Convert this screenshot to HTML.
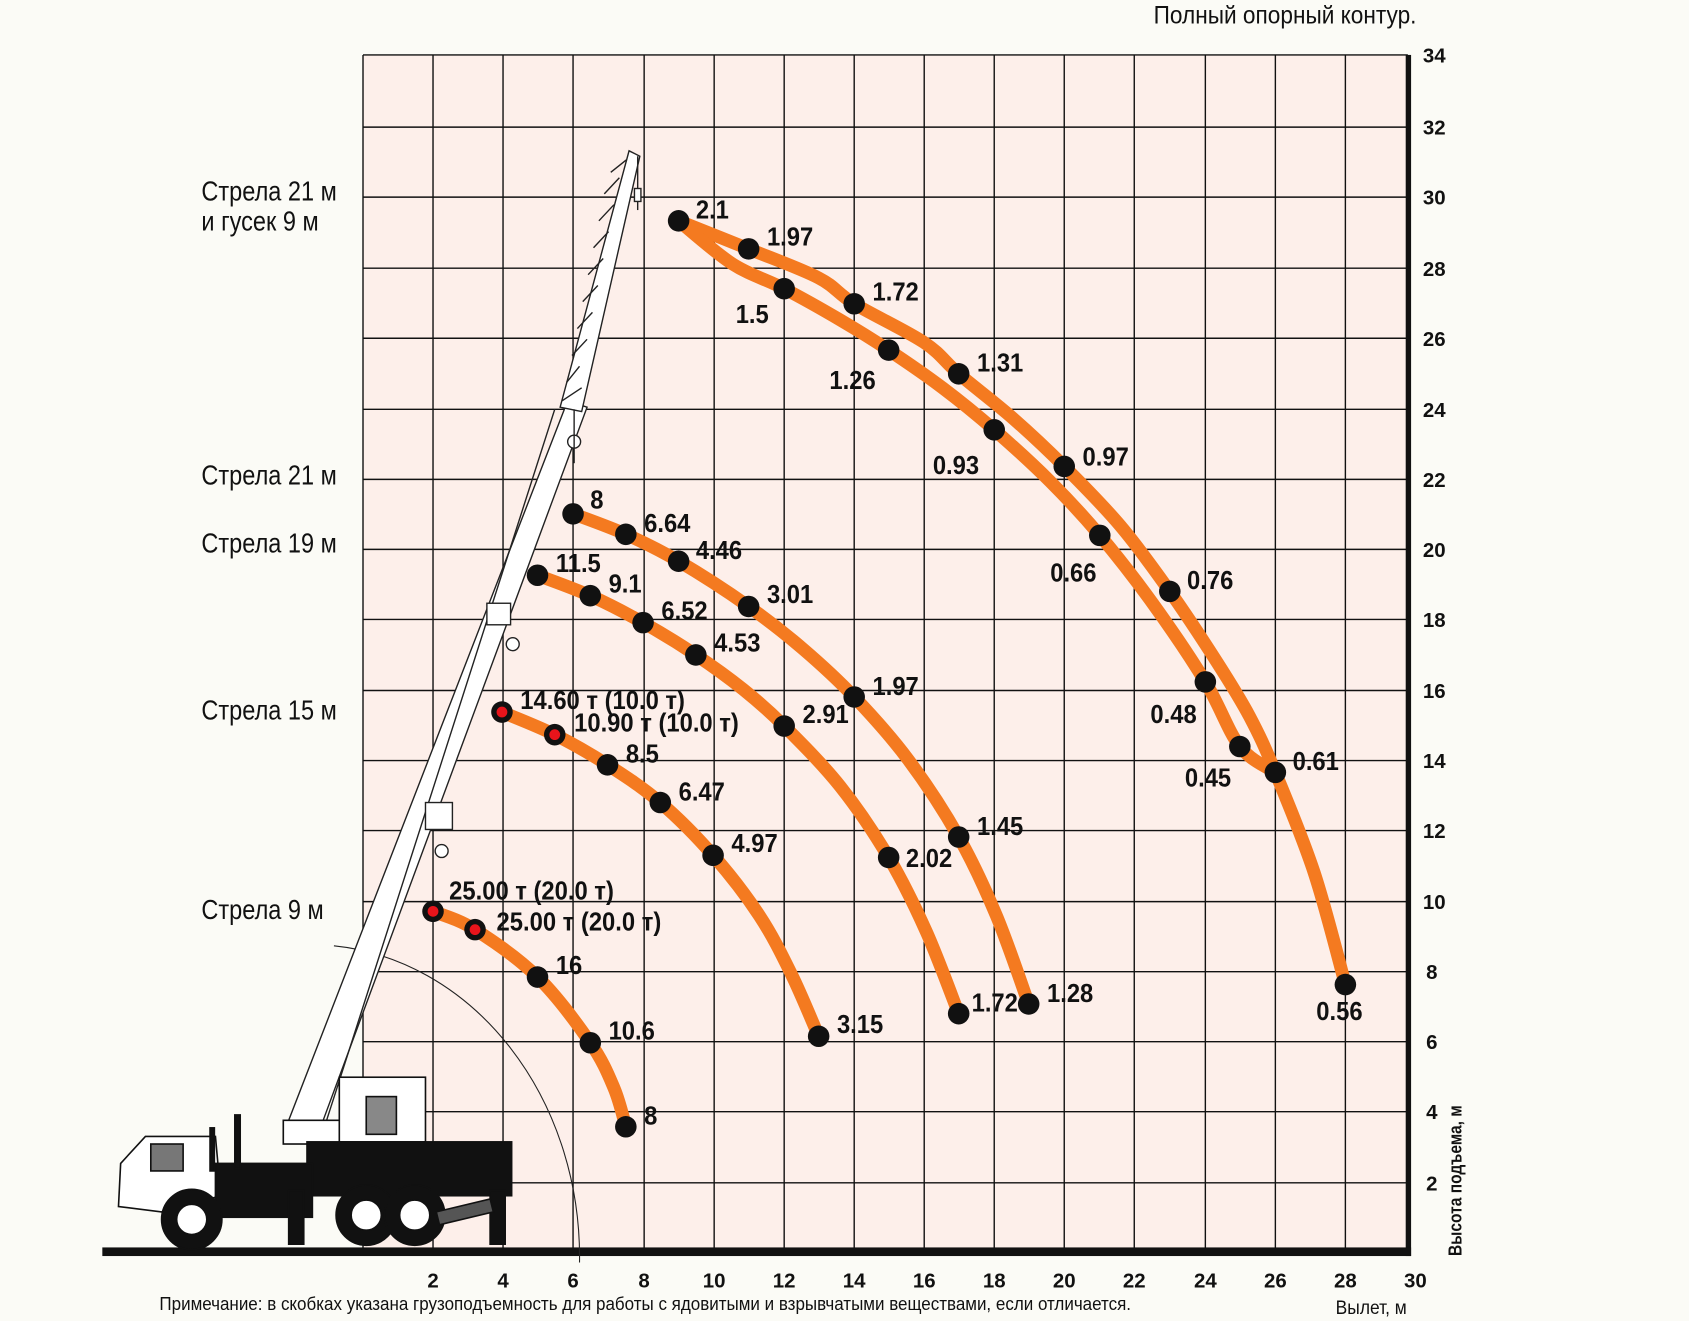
<!DOCTYPE html>
<html><head><meta charset="utf-8"><style>
html,body{margin:0;padding:0;background:#fbfbf6;}
svg{display:block}
.b{font-family:"Liberation Sans Narrow","Liberation Sans",sans-serif;font-weight:bold;font-size:24px;fill:#111}
.b text{transform-box:fill-box;transform-origin:0 50%;transform:scaleX(0.92)}
.n{font-family:"Liberation Sans Narrow","Liberation Sans",sans-serif;font-size:26px;fill:#111}
.n text{transform-box:fill-box;transform-origin:0 50%;transform:scaleX(0.84)}
.t{font-family:"Liberation Sans Narrow","Liberation Sans",sans-serif;font-size:20px;fill:#111}
.c{fill:none;stroke:#f47a20;stroke-width:12;stroke-linejoin:round;stroke-linecap:round}
</style></head><body>
<svg width="1689" height="1321" viewBox="0 0 1568 1226.3" preserveAspectRatio="none" xmlns="http://www.w3.org/2000/svg">
<rect x="0" y="0" width="1568" height="1227" fill="#fbfbf6"/>
<rect x="337" y="51" width="970" height="1111" fill="#fdefea"/>
<g stroke="#111" stroke-width="1.3">
<line x1="337" y1="51" x2="337" y2="1162"/><line x1="402" y1="51" x2="402" y2="1162"/><line x1="467" y1="51" x2="467" y2="1162"/><line x1="532" y1="51" x2="532" y2="1162"/><line x1="598" y1="51" x2="598" y2="1162"/><line x1="663" y1="51" x2="663" y2="1162"/><line x1="728" y1="51" x2="728" y2="1162"/><line x1="793" y1="51" x2="793" y2="1162"/><line x1="858" y1="51" x2="858" y2="1162"/><line x1="923" y1="51" x2="923" y2="1162"/><line x1="988" y1="51" x2="988" y2="1162"/><line x1="1053" y1="51" x2="1053" y2="1162"/><line x1="1119" y1="51" x2="1119" y2="1162"/><line x1="1184" y1="51" x2="1184" y2="1162"/><line x1="1249" y1="51" x2="1249" y2="1162"/>
<line x1="337" y1="51" x2="1307" y2="51"/><line x1="337" y1="118" x2="1307" y2="118"/><line x1="337" y1="183" x2="1307" y2="183"/><line x1="337" y1="249" x2="1307" y2="249"/><line x1="337" y1="314" x2="1307" y2="314"/><line x1="337" y1="380" x2="1307" y2="380"/><line x1="337" y1="445" x2="1307" y2="445"/><line x1="337" y1="510" x2="1307" y2="510"/><line x1="337" y1="575" x2="1307" y2="575"/><line x1="337" y1="641" x2="1307" y2="641"/><line x1="337" y1="706" x2="1307" y2="706"/><line x1="337" y1="771" x2="1307" y2="771"/><line x1="337" y1="837" x2="1307" y2="837"/><line x1="337" y1="902" x2="1307" y2="902"/><line x1="337" y1="967" x2="1307" y2="967"/><line x1="337" y1="1032" x2="1307" y2="1032"/><line x1="337" y1="1098" x2="1307" y2="1098"/>
</g>
<rect x="1305" y="51" width="5" height="1115" fill="#111"/>
<rect x="95" y="1158" width="1215" height="8" fill="#111"/>
<path d="M310 878 A 250 290 0 0 1 538 1172" fill="none" stroke="#222" stroke-width="1"/>
<g stroke="#222" stroke-width="1.3" fill="#fff">
<polygon points="268,1040 300,1040 545,378 527,372"/>
<line x1="300" y1="1050" x2="515" y2="380" fill="none"/>
<polygon points="520,378 540,382 594,145 584,140"/>
<path d="M522 372 L540 360 M526 355 L538 340 M531 330 L545 315 M536 305 L550 290 M541 280 L555 265 M546 255 L560 240 M551 230 L565 215 M556 205 L570 190 M561 180 L575 165 M567 160 L582 148" fill="none"/>
<circle cx="533" cy="410" r="6"/><line x1="533" y1="380" x2="533" y2="430"/>
<circle cx="476" cy="598" r="6"/><rect x="452" y="560" width="22" height="20"/>
<circle cx="410" cy="790" r="6"/><rect x="395" y="745" width="25" height="25"/>
<line x1="592" y1="145" x2="592" y2="195"/><rect x="589" y="175" width="6" height="12"/>
</g>
<g stroke="#111" stroke-width="1.5">
<rect x="263" y="1040" width="70" height="22" fill="#fff"/>
<rect x="315" y="1000" width="80" height="60" fill="#fff"/>
<rect x="340" y="1018" width="28" height="35" fill="#888"/>
<rect x="285" y="1060" width="190" height="50" fill="#111"/>
<path d="M135 1055 L200 1055 L205 1110 L150 1125 L110 1120 L112 1080 Z" fill="#fff"/>
<rect x="140" y="1062" width="30" height="25" fill="#777"/>
<rect x="200" y="1080" width="90" height="50" fill="#111"/>
<rect x="218" y="1035" width="5" height="50" fill="#111"/>
<rect x="195" y="1047" width="4" height="40" fill="#111"/>
<rect x="268" y="1105" width="14" height="50" fill="#111"/>
<rect x="455" y="1105" width="14" height="50" fill="#111"/>
<circle cx="178" cy="1132" r="28" fill="#111"/><circle cx="178" cy="1132" r="14" fill="#fff"/>
<circle cx="340" cy="1128" r="28" fill="#111"/><circle cx="340" cy="1128" r="14" fill="#fff"/>
<circle cx="385" cy="1128" r="28" fill="#111"/><circle cx="385" cy="1128" r="14" fill="#fff"/>
<polygon points="405,1125 455,1113 458,1125 408,1137" fill="#555"/>
</g>
<g id="curves">
<polyline class="c" points="630,205 695,231 760,258 793,282 858,318 890,347 940,388 988,433 1040,488 1086,549 1130,615 1160,665 1184,717 1220,810 1249,914"/>
<polyline class="c" points="630,205 680,245 728,268 780,297 825,325 875,360 923,399 975,447 1021,497 1070,560 1119,633 1151,693 1184,717"/>
<polyline class="c" points="532,477 581,496 630,521 695,563 745,602 793,647 843,705 890,777 925,850 955,932"/>
<polyline class="c" points="499,534 548,553 597,578 646,608 690,640 728,674 780,730 825,796 860,865 890,941"/>
<polyline class="c" points="466,661 515,682 564,710 613,745 662,794 705,850 735,905 760,962"/>
<polyline class="c" points="402,846 441,863 499,907 548,968 570,1010 581,1046"/>
</g>
<g fill="#111">
<circle cx="630" cy="205" r="10"/><circle cx="695" cy="231" r="10"/><circle cx="793" cy="282" r="10"/><circle cx="890" cy="347" r="10"/><circle cx="988" cy="433" r="10"/><circle cx="1086" cy="549" r="10"/><circle cx="1184" cy="717" r="10"/><circle cx="1249" cy="914" r="10"/>
<circle cx="728" cy="268" r="10"/><circle cx="825" cy="325" r="10"/><circle cx="923" cy="399" r="10"/><circle cx="1021" cy="497" r="10"/><circle cx="1119" cy="633" r="10"/><circle cx="1151" cy="693" r="10"/>
<circle cx="532" cy="477" r="10"/><circle cx="581" cy="496" r="10"/><circle cx="630" cy="521" r="10"/><circle cx="695" cy="563" r="10"/><circle cx="793" cy="647" r="10"/><circle cx="890" cy="777" r="10"/><circle cx="955" cy="932" r="10"/>
<circle cx="499" cy="534" r="10"/><circle cx="548" cy="553" r="10"/><circle cx="597" cy="578" r="10"/><circle cx="646" cy="608" r="10"/><circle cx="728" cy="674" r="10"/><circle cx="825" cy="796" r="10"/><circle cx="890" cy="941" r="10"/>
<circle cx="466" cy="661" r="10"/><circle cx="515" cy="682" r="10"/><circle cx="564" cy="710" r="10"/><circle cx="613" cy="745" r="10"/><circle cx="662" cy="794" r="10"/><circle cx="760" cy="962" r="10"/>
<circle cx="402" cy="846" r="10"/><circle cx="441" cy="863" r="10"/><circle cx="499" cy="907" r="10"/><circle cx="548" cy="968" r="10"/><circle cx="581" cy="1046" r="10"/>
</g>
<g fill="#e8141b"><circle cx="466" cy="661" r="5"/><circle cx="515" cy="682" r="5"/><circle cx="402" cy="846" r="5"/><circle cx="441" cy="863" r="5"/></g>
<g class="b">
<text x="646" y="203">2.1</text><text x="712" y="228">1.97</text><text x="810" y="279">1.72</text><text x="683" y="300">1.5</text><text x="907" y="345">1.31</text><text x="770" y="361">1.26</text><text x="1005" y="432">0.97</text><text x="866" y="440">0.93</text><text x="975" y="540">0.66</text><text x="1102" y="547">0.76</text><text x="1068" y="671">0.48</text><text x="1100" y="730">0.45</text><text x="1200" y="715">0.61</text><text x="1222" y="947">0.56</text>
<text x="548" y="472">8</text><text x="598" y="494">6.64</text><text x="646" y="519">4.46</text><text x="712" y="560">3.01</text><text x="810" y="645">1.97</text><text x="907" y="775">1.45</text><text x="972" y="930">1.28</text>
<text x="516" y="531">11.5</text><text x="565" y="550">9.1</text><text x="614" y="575">6.52</text><text x="663" y="605">4.53</text><text x="745" y="671">2.91</text><text x="841" y="805">2.02</text><text x="902" y="939">1.72</text>
<text x="483" y="658">14.60 т (10.0 т)</text><text x="533" y="679">10.90 т (10.0 т)</text><text x="581" y="708">8.5</text><text x="630" y="743">6.47</text><text x="679" y="791">4.97</text><text x="777" y="959">3.15</text>
<text x="417" y="835">25.00 т (20.0 т)</text><text x="461" y="864">25.00 т (20.0 т)</text><text x="516" y="904">16</text><text x="565" y="965">10.6</text><text x="598" y="1044">8</text>
</g>
<g class="n">
<text x="187" y="186">Стрела 21 м</text><text x="187" y="214">и гусек 9 м</text><text x="187" y="450">Стрела 21 м</text><text x="187" y="513">Стрела 19 м</text><text x="187" y="668">Стрела 15 м</text><text x="187" y="853">Стрела 9 м</text>
</g>
<text class="t" x="1071" y="22" style="font-size:23px" textLength="244" lengthAdjust="spacingAndGlyphs">Полный опорный контур.</text>
<g class="t" text-anchor="start" style="font-weight:bold;font-size:19px">
<text x="1321" y="58">34</text><text x="1321" y="125">32</text><text x="1321" y="190">30</text><text x="1321" y="256">28</text><text x="1321" y="321">26</text><text x="1321" y="387">24</text><text x="1321" y="452">22</text><text x="1321" y="517">20</text><text x="1321" y="582">18</text><text x="1321" y="648">16</text><text x="1321" y="713">14</text><text x="1321" y="778">12</text><text x="1321" y="844">10</text><text x="1324" y="909">8</text><text x="1324" y="974">6</text><text x="1324" y="1039">4</text><text x="1324" y="1105">2</text>
</g>
<g class="t" text-anchor="middle" style="font-weight:bold;font-size:19px">
<text x="402" y="1195">2</text><text x="467" y="1195">4</text><text x="532" y="1195">6</text><text x="598" y="1195">8</text><text x="663" y="1195">10</text><text x="728" y="1195">12</text><text x="793" y="1195">14</text><text x="858" y="1195">16</text><text x="923" y="1195">18</text><text x="988" y="1195">20</text><text x="1053" y="1195">22</text><text x="1119" y="1195">24</text><text x="1184" y="1195">26</text><text x="1249" y="1195">28</text><text x="1314" y="1195">30</text>
</g>
<text class="t" x="1240" y="1220" style="font-size:18px" textLength="66" lengthAdjust="spacingAndGlyphs">Вылет, м</text>
<text class="t" transform="translate(1357,1166) rotate(-90)" style="font-size:17px;font-weight:bold" textLength="140" lengthAdjust="spacingAndGlyphs">Высота подъема, м</text>
<text class="t" x="148" y="1216" style="font-size:17px" textLength="902" lengthAdjust="spacingAndGlyphs">Примечание: в скобках указана грузоподъемность для работы с ядовитыми и взрывчатыми веществами, если отличается.</text>
</svg>
<script>
(function(){
var ns="http://www.w3.org/2000/svg";
document.querySelectorAll('#curves polyline').forEach(function(pl){
var p=pl.getAttribute('points').trim().split(/\s+/).map(function(s){return s.split(',').map(Number);});
var d="M"+p[0][0]+" "+p[0][1];
for(var i=0;i<p.length-1;i++){
var p0=p[i-1]||p[i],p1=p[i],p2=p[i+1],p3=p[i+2]||p[i+1];
var c1=[p1[0]+(p2[0]-p0[0])/6,p1[1]+(p2[1]-p0[1])/6];
var c2=[p2[0]-(p3[0]-p1[0])/6,p2[1]-(p3[1]-p1[1])/6];
d+=" C"+c1[0]+" "+c1[1]+" "+c2[0]+" "+c2[1]+" "+p2[0]+" "+p2[1];
}
var path=document.createElementNS(ns,'path');path.setAttribute('d',d);path.setAttribute('class','c');
pl.parentNode.replaceChild(path,pl);
});
})();
</script>
</body></html>
